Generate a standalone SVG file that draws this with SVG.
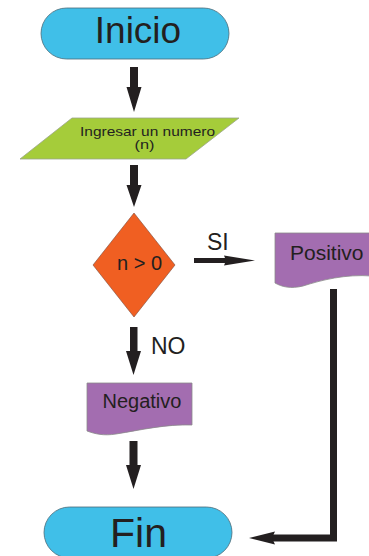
<svg xmlns="http://www.w3.org/2000/svg" width="369" height="556" viewBox="0 0 369 556">
<style>
.term{fill:#40BFE8;stroke:#4a6b78;stroke-width:0.8}
.io{fill:#A5CC3A;stroke:#9aa58a;stroke-width:0.8}
.dec{fill:#F05F22;stroke:#7a4a3a;stroke-width:0.6}
.doc{fill:#A36DB0;stroke:#8a8a8a;stroke-width:0.8}
.t{font-family:"Liberation Sans",Arial,sans-serif;fill:#231F20}
.arr{fill:#231F20}
.ln{fill:none;stroke:#231F20;stroke-width:7;stroke-linejoin:miter}
</style>
<rect width="369" height="556" fill="#ffffff"/>
<g id="connectors">
<polygon class="arr" points="130,67 138,67 138,87 141.5,87 134,112 126.5,87 130,87"/>
<polygon class="arr" points="130,165 138,165 138,185 141.5,185 134,207 126.5,185 130,185"/>
<polygon class="arr" points="194,258 225,258 224,255.5 255,260.5 224,265.5 225,263 194,263"/>
<text class="t" x="207" y="250" font-size="23">SI</text>
<polygon class="arr" points="130,327 137.5,327 137.5,351 141,351 133.5,375 126,351 130,351"/>
<text class="t" x="151" y="354" font-size="23">NO</text>
<polygon class="arr" points="129.5,441 137.5,441 137.5,465 141,465 133.5,489 126,465 129.5,465"/>
<polyline class="ln" points="333.5,289 333.5,538 272,538"/>
<polygon class="arr" points="249,538 275,531.5 272,538 275,544.5"/>
</g>
<g id="inicio">
<rect class="term" x="41" y="8" width="188" height="51" rx="25.5"/>
<text class="t" x="138" y="43" font-size="37" text-anchor="middle">Inicio</text>
</g>
<g id="ingresar">
<polygon class="io" points="72,118 239,118 186,159 20,159"/>
<text class="t" x="147.5" y="135.5" font-size="12.6" text-anchor="middle" textLength="135" lengthAdjust="spacingAndGlyphs">Ingresar un numero</text>
<text class="t" x="144.5" y="148.5" font-size="12.6" text-anchor="middle" textLength="20" lengthAdjust="spacingAndGlyphs">(n)</text>
</g>
<g id="decision">
<polygon class="dec" points="134,213 175,265 134,317 93,265"/>
<text class="t" x="139.5" y="269.5" font-size="20" text-anchor="middle">n &gt; 0</text>
</g>
<g id="positivo">
<path class="doc" d="M275,233 H372 V276 C345,274 322,280 303,286 C291,289 282,287 275,283 Z"/>
<text class="t" x="290" y="260" font-size="21">Positivo</text>
</g>
<g id="negativo">
<path class="doc" d="M87,383 H192 V425 C166,424 141,430 116,434 C104,436 95,434 87,431 Z"/>
<text class="t" x="102.5" y="408" font-size="20">Negativo</text>
</g>
<g id="fin">
<rect class="term" x="44" y="507" width="188" height="51" rx="25.5"/>
<text class="t" x="138.5" y="547" font-size="41" text-anchor="middle">Fin</text>
</g>
</svg>
